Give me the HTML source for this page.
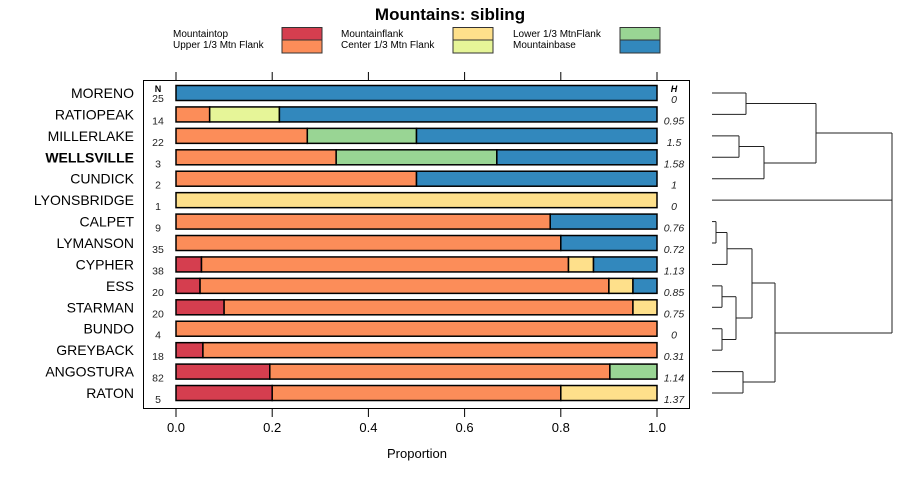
<!DOCTYPE html>
<html><head><meta charset="utf-8"><style>
body{margin:0;background:#fff}
svg{display:block;font-family:"Liberation Sans",sans-serif}
</style></head><body>
<svg id="c" width="900" height="480"></svg>
<script>
const sites=["MORENO","RATIOPEAK","MILLERLAKE","WELLSVILLE","CUNDICK","LYONSBRIDGE","CALPET","LYMANSON","CYPHER","ESS","STARMAN","BUNDO","GREYBACK","ANGOSTURA","RATON"];
const nVals=[25,14,22,3,2,1,9,35,38,20,20,4,18,82,5];
const hVals=["0","0.95","1.5","1.58","1","0","0.76","0.72","1.13","0.85","0.75","0","0.31","1.14","1.37"];
const categories=["Mountaintop","Upper 1/3 Mtn Flank","Mountainflank","Center 1/3 Mtn Flank","Lower 1/3 MtnFlank","Mountainbase"];
const colors=["#D53E4F","#FC8D59","#FEE08B","#E6F598","#99D594","#3288BD"];
const mountaintop=[0,0,0,0,0,0,0,0,0.053,0.05,0.1,0,0.056,0.195,0.2];
const upperFlank=[0,0.07,0.273,0.333,0.5,0,0.778,0.8,0.763,0.85,0.85,1,0.944,0.707,0.6];
const mountainflank=[0,0,0,0,0,1,0,0,0.052,0.05,0.05,0,0,0,0.2];
const centerFlank=[0,0.145,0,0,0,0,0,0,0,0,0,0,0,0,0];
const lowerFlank=[0,0,0.227,0.334,0,0,0,0,0,0,0,0,0,0.098,0];
const mountainbase=[1,0.785,0.5,0.333,0.5,0,0.222,0.2,0.132,0.05,0,0,0,0,0];
const series=[mountaintop,upperFlank,mountainflank,centerFlank,lowerFlank,mountainbase];
const xTicks=[0,0.2,0.4,0.6,0.8,1.0];

const NS="http://www.w3.org/2000/svg";
const svg=document.getElementById("c");
function el(t,a,txt){const e=document.createElementNS(NS,t);for(const k in a)e.setAttribute(k,a[k]);if(txt!=null)e.textContent=txt;svg.appendChild(e);return e;}
const x=v=>176+v*481;
const y=i=>93+i*21.43;

let t=el("text",{x:450,y:20,"text-anchor":"middle","font-size":17,"font-weight":"bold"},"Mountains: sibling");


const legCols=[[173,282],[341,453],[513,620]];
categories.forEach((c,k)=>{
  const col=Math.floor(k/2),row=k%2;
  const lt=el("text",{x:legCols[col][0],y:37+row*11,"font-size":10,fill:"#000"},c);
  
  const r=el("rect",{x:legCols[col][1],y:27.5+row*12.5,width:40,height:13,fill:colors[k],stroke:"#333","stroke-width":1});
  
});

const fr=el("rect",{x:143.5,y:80.5,width:546,height:328,fill:"none",stroke:"#000","stroke-width":1});


xTicks.forEach(v=>{
  const a=el("line",{x1:x(v),x2:x(v),y1:72,y2:80,stroke:"#000"});
  
  const b=el("line",{x1:x(v),x2:x(v),y1:409,y2:417,stroke:"#000"});
  
  const l=el("text",{x:x(v),y:432,"text-anchor":"middle","font-size":13},v.toFixed(1));
  
});
let xt=el("text",{x:417,y:458,"text-anchor":"middle","font-size":13},"Proportion");


let nh=el("text",{x:158,y:92,"text-anchor":"middle","font-size":9,"font-weight":"bold"},"N");

let hh=el("text",{x:674,y:92,"text-anchor":"middle","font-size":9,"font-weight":"bold","font-style":"italic"},"H");


sites.forEach((s,i)=>{
  const cy=y(i);
  const lab=el("text",{x:134,y:cy+5,"text-anchor":"end","font-size":14,"font-weight":s==="WELLSVILLE"?"bold":"normal"},s);
  
  const n=el("text",{x:158,y:cy+(i===0?9:10),"text-anchor":"middle","font-size":10.5,fill:"#222"},nVals[i]);
  
  const h=el("text",{x:674,y:cy+10,"text-anchor":"middle","font-size":10.5,"font-style":"italic",fill:"#222"},hVals[i]);
  
  let acc=0;
  series.forEach((ser,k)=>{
    const v=ser[i];if(v<=0)return;
    const r=el("rect",{x:x(acc),y:cy-7.5,width:x(acc+v)-x(acc),height:15,fill:colors[k],stroke:"#000","stroke-width":1.5});
    
    acc+=v;
  });
});

const segs=[
 [712,y(0),746,y(0)],[712,y(1),746,y(1)],[746,y(0),746,y(1)],
 [712,y(2),739,y(2)],[712,y(3),739,y(3)],[739,y(2),739,y(3)],
 [739,146.5,764,146.5],[712,y(4),764,y(4)],[764,146.5,764,y(4)],
 [746,103.5,816,103.5],[764,163,816,163],[816,103.5,816,163],
 [816,133,892,133],[712,y(5),892,y(5)],[892,133,892,333],
 [712,y(6),716,y(6)],[712,y(7),716,y(7)],[716,y(6),716,y(7)],
 [716,232.5,727,232.5],[712,y(8),727,y(8)],[727,232.5,727,y(8)],
 [712,y(9),722,y(9)],[712,y(10),722,y(10)],[722,y(9),722,y(10)],
 [712,y(11),722,y(11)],[712,y(12),722,y(12)],[722,y(11),722,y(12)],
 [722,296.7,736,296.7],[722,339.5,736,339.5],[736,296.7,736,339.5],
 [727,248.7,752,248.7],[736,318,752,318],[752,248.7,752,318],
 [712,y(13),743,y(13)],[712,y(14),743,y(14)],[743,y(13),743,y(14)],
 [752,283,775,283],[743,382,775,382],[775,283,775,382],
 [775,333,892,333]
];
segs.forEach(s=>{
  const l=el("line",{x1:s[0],y1:s[1],x2:s[2],y2:s[3],stroke:"#222","stroke-width":1});
  
});
</script>
</body></html>
